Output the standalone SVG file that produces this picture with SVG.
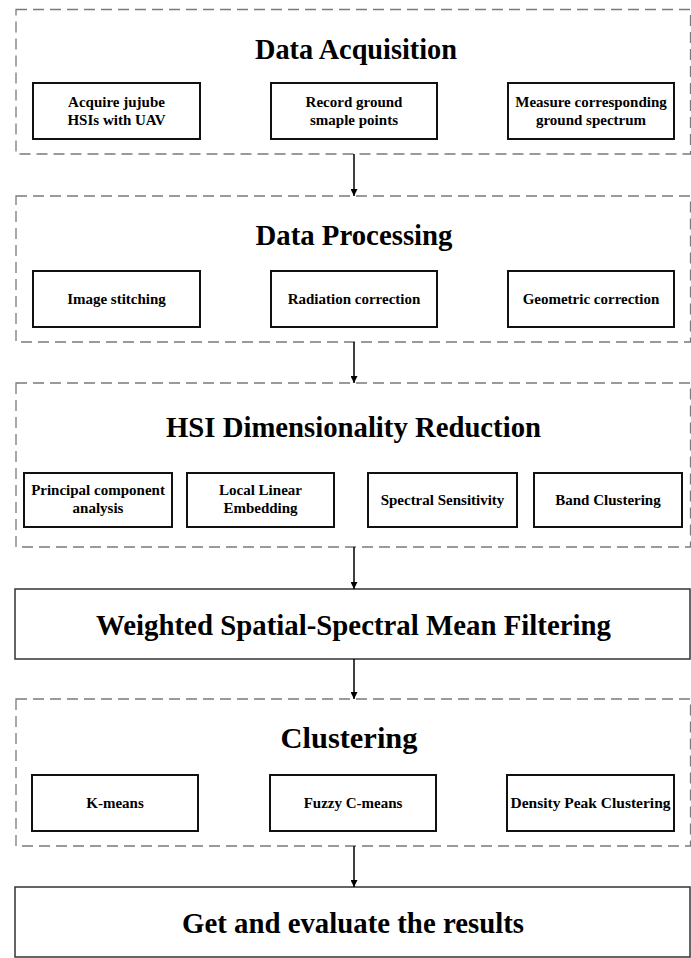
<svg xmlns="http://www.w3.org/2000/svg" width="691" height="958" viewBox="0 0 691 958">
<style>
  .grp { fill: none; stroke: #7a7a7a; stroke-width: 1.3; stroke-dasharray: 11 6; }
  .sub { fill: #fff; stroke: #111; stroke-width: 2; }
  .big { fill: #fff; stroke: #333; stroke-width: 1.5; }
  .title { font-family: "Liberation Serif", "Times New Roman", serif; font-weight: bold; font-size: 30px; fill: #000; text-anchor: middle; }
  .lbl { font-family: "Liberation Serif", "Times New Roman", serif; font-weight: bold; font-size: 15px; fill: #000; text-anchor: middle; }
  .conn { stroke: #000; stroke-width: 1.5; fill: none; marker-end: url(#ah); }
</style>
<defs>
  <marker id="ah" viewBox="0 0 10 10" refX="10" refY="5" markerWidth="7" markerHeight="7" markerUnits="userSpaceOnUse" orient="auto">
    <path d="M0,0 L10,5 L0,10 z" fill="#000"/>
  </marker>
</defs>
<rect width="691" height="958" fill="#fff"/>

<g id="data-acquisition">
  <rect class="grp" x="16" y="9.5" width="674.5" height="144.5"/>
  <text class="title" x="356" y="59" textLength="202" lengthAdjust="spacingAndGlyphs">Data Acquisition</text>
  <g id="acquire-hsi">
    <rect class="sub" x="33" y="83" width="167" height="56"/>
    <text class="lbl" x="116.5" y="107">Acquire jujube</text>
    <text class="lbl" x="116.5" y="125">HSIs with UAV</text>
  </g>
  <g id="record-ground">
    <rect class="sub" x="271" y="83" width="166" height="56"/>
    <text class="lbl" x="354" y="107">Record ground</text>
    <text class="lbl" x="354" y="125">smaple points</text>
  </g>
  <g id="measure-spectrum">
    <rect class="sub" x="508" y="83" width="166" height="56"/>
    <text class="lbl" x="591" y="107">Measure corresponding</text>
    <text class="lbl" x="591" y="125">ground spectrum</text>
  </g>
</g>

<g id="data-processing">
  <rect class="grp" x="16" y="196" width="674.5" height="146"/>
  <text class="title" x="354" y="245" textLength="197" lengthAdjust="spacingAndGlyphs">Data Processing</text>
  <g id="image-stitching">
    <rect class="sub" x="33" y="271" width="167" height="56"/>
    <text class="lbl" x="116.5" y="304">Image stitching</text>
  </g>
  <g id="radiation-correction">
    <rect class="sub" x="271" y="271" width="166" height="56"/>
    <text class="lbl" x="354" y="304">Radiation correction</text>
  </g>
  <g id="geometric-correction">
    <rect class="sub" x="508" y="271" width="166" height="56"/>
    <text class="lbl" x="591" y="304">Geometric correction</text>
  </g>
</g>

<g id="dimensionality-reduction">
  <rect class="grp" x="16" y="383" width="674.5" height="164"/>
  <text class="title" x="353.5" y="437" textLength="375" lengthAdjust="spacingAndGlyphs">HSI Dimensionality Reduction</text>
  <g id="pca">
    <rect class="sub" x="24" y="473" width="148" height="54"/>
    <text class="lbl" x="98" y="495">Principal component</text>
    <text class="lbl" x="98" y="513">analysis</text>
  </g>
  <g id="lle">
    <rect class="sub" x="187" y="473" width="147" height="54"/>
    <text class="lbl" x="260.5" y="495">Local Linear</text>
    <text class="lbl" x="260.5" y="513">Embedding</text>
  </g>
  <g id="spectral-sensitivity">
    <rect class="sub" x="368" y="473" width="149" height="54"/>
    <text class="lbl" x="442.5" y="505">Spectral Sensitivity</text>
  </g>
  <g id="band-clustering">
    <rect class="sub" x="534" y="473" width="148" height="54"/>
    <text class="lbl" x="608" y="505">Band Clustering</text>
  </g>
</g>

<g id="wssmf">
  <rect class="big" x="15" y="589" width="675" height="70"/>
  <text class="title" x="353.5" y="635" textLength="515" lengthAdjust="spacingAndGlyphs">Weighted Spatial-Spectral Mean Filtering</text>
</g>

<g id="clustering">
  <rect class="grp" x="16" y="699" width="674.5" height="147"/>
  <text class="title" x="349" y="748" textLength="137" lengthAdjust="spacingAndGlyphs">Clustering</text>
  <g id="k-means">
    <rect class="sub" x="32" y="775" width="166" height="56"/>
    <text class="lbl" x="115" y="808">K-means</text>
  </g>
  <g id="fuzzy-c-means">
    <rect class="sub" x="270" y="775" width="166" height="56"/>
    <text class="lbl" x="353" y="808">Fuzzy C-means</text>
  </g>
  <g id="density-peak">
    <rect class="sub" x="507" y="775" width="167" height="56"/>
    <text class="lbl" x="590.5" y="808" textLength="160" lengthAdjust="spacingAndGlyphs">Density Peak Clustering</text>
  </g>
</g>

<g id="results">
  <rect class="big" x="15" y="887" width="675" height="70"/>
  <text class="title" x="353" y="933" textLength="342" lengthAdjust="spacingAndGlyphs">Get and evaluate the results</text>
</g>

<g id="connectors">
  <line class="conn" x1="354" y1="154" x2="354" y2="196"/>
  <line class="conn" x1="354" y1="342" x2="354" y2="383"/>
  <line class="conn" x1="354" y1="547" x2="354" y2="589"/>
  <line class="conn" x1="354" y1="659" x2="354" y2="699"/>
  <line class="conn" x1="354" y1="846" x2="354" y2="887"/>
</g>
</svg>
